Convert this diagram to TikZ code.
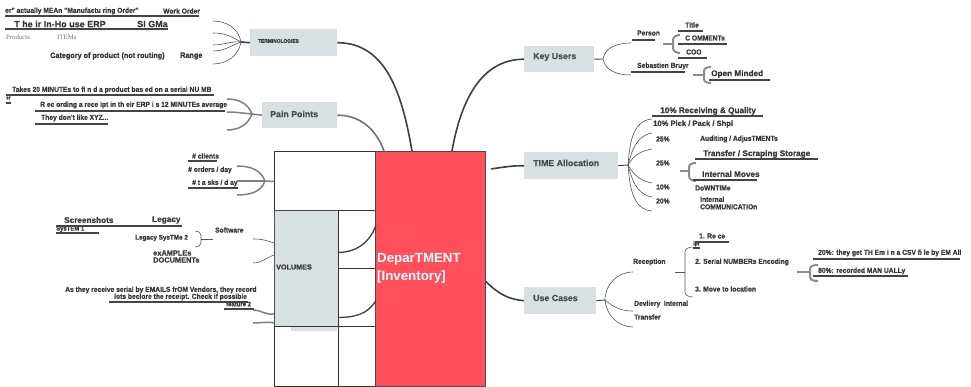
\documentclass[tikz,border=0pt]{standalone}
\usepackage{fontspec}
\setmainfont{Liberation Sans}
\newfontfamily\cnd[FakeStretch=0.93,FakeBold=0.8]{Liberation Sans Bold}
\newfontfamily\hvy[FakeBold=0.6]{Liberation Sans Bold}
\newfontfamily\srf{Liberation Serif}
\usetikzlibrary{calc}
\definecolor{redc}{HTML}{FF4F5A}
\definecolor{boxg}{HTML}{D9E0E2}
\definecolor{linec}{HTML}{39414C}
\definecolor{txtc}{HTML}{383838}
\definecolor{barc}{HTML}{444444}
\begin{document}
\begin{tikzpicture}[x=1pt,y=-1pt,
 txt/.style={font=\cnd\fontsize{7.2}{7.4}\selectfont, text=txtc, inner sep=0pt, anchor=west},
 txtw/.style={font=\hvy\fontsize{8.2}{8.4}\selectfont, text=txtc, inner sep=0pt, anchor=west},
 srft/.style={font=\srf\fontsize{6.8}{7}\selectfont, text=black!55, inner sep=0pt, anchor=west},
 lbl/.style={font=\hvy\fontsize{8.8}{9}\selectfont, text=txtc!90, inner sep=0pt, anchor=west},
 gbox/.style={fill=boxg, draw=none, inner sep=0pt, anchor=north west},
 cell/.style={draw=black!80, line width=0.9pt, inner sep=0pt, anchor=north west},
 bar/.style={draw=barc, line width=2.6pt},
 conn/.style={draw=linec, line width=1.6pt},
 gconn/.style={draw=black!55, line width=1.6pt},
 fan/.style={draw=linec!90, line width=0.6pt},
 gfan/.style={draw=black!50, line width=1.5pt},
 brk/.style={draw=black!45, line width=2pt},
]
\fill[white] (0,0) rectangle (971,387);
\useasboundingbox (0,0) rectangle (971,387);

% ---------- central block ----------
\node[cell, fill=white, minimum width=101pt, minimum height=59pt] (topw) at (274,151) {};
\node[cell, fill=boxg, draw=black!70, minimum width=64pt, minimum height=116pt] (vol) at (274,210) {};
\node[cell, fill=white, minimum width=37pt, minimum height=58pt] (sA) at (338,210) {};
\node[cell, fill=white, minimum width=37pt, minimum height=58pt] (sB) at (338,268) {};
\node[cell, fill=white, minimum width=64pt, minimum height=60pt] (bA) at (274,326) {};
\node[cell, fill=white, minimum width=37pt, minimum height=60pt] (bB) at (338,326) {};
\fill[boxg] (291,327) rectangle (337,331);
\node[cell, fill=redc, draw=black!70, minimum width=110pt, minimum height=235pt] (dept) at (375,151) {};
\node[font=\bfseries\fontsize{13.3}{18}\selectfont, text=white, align=left, inner sep=0pt, anchor=west] (deptlbl) at (377,268) {DeparTMENT\\{[Inventory]}};
\node[font=\hvy\fontsize{7.2}{8}\selectfont, text=txtc, inner sep=0pt, anchor=west] (vollbl) at (276,267) {VOLUMES};

\draw[conn, line width=1.3pt] ([yshift=-13pt]sA.west) to[out=0,in=-110] ([yshift=14pt]sA.east);
\draw[conn, line width=1.3pt] ([yshift=-20pt]sB.west) to[out=0,in=-120] ([yshift=-3pt]sB.east);

% ---------- branch boxes ----------
\node[gbox, minimum width=87pt, minimum height=27pt] (terms) at (250,29) {};
\node[font=\cnd\fontsize{5.2}{6}\selectfont, text=txtc, inner sep=0pt, anchor=west] (termslbl) at (258,41) {TERMINOLOGIES};
\node[gbox, minimum width=75pt, minimum height=26pt] (pain) at (262,102) {};
\node[lbl] (painlbl) at (270,114) {Pain Points};
\node[gbox, minimum width=70pt, minimum height=26pt] (keyu) at (524,46) {};
\node[lbl] (keyulbl) at (533,57) {Key Users};
\node[gbox, minimum width=94pt, minimum height=27pt] (time) at (524,152) {};
\node[lbl] (timelbl) at (533,163) {TIME Allocation};
\node[gbox, minimum width=72pt, minimum height=27pt] (usec) at (524,287) {};
\node[lbl] (useclbl) at (533,298) {Use Cases};

% main connectors
\draw[conn] (terms.east) to[out=0,in=100] ([xshift=37pt]dept.north west);
\draw[gconn] (pain.east) to[out=0,in=110] ([xshift=9pt]dept.north west);
\draw[conn] ([xshift=77pt]dept.north west) to[out=80,in=180] (keyu.west);
\draw[conn] ([xshift=5pt,yshift=100pt]dept.east) to[out=8,in=180] (time.west);
\draw[conn] ([yshift=-12.5pt]dept.east) to[out=-45,in=175] (usec.west);

% ---------- TERMINOLOGIES ----------
\node[txt] (t1) at (5,11) {er" actually MEAn "Manufactu ring Order"};
\node[txt] (t1b) at (163,11) {Work Order};
\draw[bar] (5,16) -- (199,16);
\node[txtw, font=\hvy\fontsize{9}{9}\selectfont] (t2) at (14,24) {T he ir In-Ho use ERP};
\node[txtw, font=\hvy\fontsize{9}{9}\selectfont] (t2b) at (137,24) {SI GMa};
\draw[bar] (5,29) -- (168,29);
\node[srft] (t3) at (6,37) {Products};
\node[srft] (t3b) at (57,37) {ITEMs};
\node[txt, font=\cnd\fontsize{7.8}{8}\selectfont] (t4) at (50,56) {Category of product (not routing)};
\node[txt, font=\cnd\fontsize{7.8}{8}\selectfont] (t4b) at (180,56) {Range};
\coordinate (J1) at (241,42);
\coordinate (e11) at (213,21);
\coordinate (e12) at (213,33);
\coordinate (e13) at (213,45);
\coordinate (e14) at (213,51);
\coordinate (e15) at (213,64);
\draw[conn] (terms.west) -- (J1);
\draw[fan] (J1) to[out=100,in=0] (e11);
\draw[fan] (J1) to[out=150,in=0] (e12);
\draw[fan] (J1) to[out=175,in=0] (e13);
\draw[fan] (J1) to[out=200,in=0] (e14);
\draw[fan] (J1) to[out=260,in=0] (e15);

% ---------- Pain Points ----------
\node[txt] (p1) at (12,90) {Takes 20 MINUTEs to fi n d a product bas ed on a serial NU MB};
\node[txt, font=\cnd\fontsize{5}{5}\selectfont] (p1b) at (6,98) {er};
\draw[bar] (6,95) -- (214,95);
\draw[bar, line width=2pt] (6,103) -- (11,103);
\node[txt] (p2) at (40,105) {R ec ording a rece ipt in th eir ERP i s 12 MINUTEs average};
\draw[bar] (35,111) -- (225,111);
\node[txt] (p3) at (41,118) {They don't like XYZ...};
\draw[bar] (35,124) -- (108,124);
\coordinate (J2) at (252,114);
\coordinate (e21) at (227,99);
\coordinate (e22) at (227,112);
\coordinate (e23) at (227,130);
\draw[gfan] (pain.west) -- (J2);
\draw[gfan] (J2) to[out=110,in=0] (e21);
\draw[gfan] (J2) to[out=175,in=0] (e22);
\draw[gfan] (J2) to[out=250,in=0] (e23);

% ---------- Volumes: counts ----------
\node[txt] (v1) at (192,156) {\# clients};
\draw[bar] (188,161) -- (217,161);
\node[txt] (v2) at (188,170) {\# orders / day};
\node[txt] (v3) at (192,183) {\# t a sks / d ay};
\draw[bar] (188,188) -- (238,188);
\coordinate (J3) at (265,181);
\coordinate (e31) at (237,166);
\coordinate (e32) at (237,181);
\coordinate (e33) at (237,195);
\draw[gfan] ([yshift=-0.5pt]topw.west) -- (J3);
\draw[gfan] (J3) to[out=110,in=0] (e31);
\draw[gfan] (J3) -- (e32);
\draw[gfan] (J3) to[out=250,in=0] (e33);

% ---------- Volumes: software ----------
\node[txt, font=\cnd\fontsize{6.4}{6.4}\selectfont] (s0) at (56,229) {SysTEM 1};
\node[txtw] (s1) at (64,220) {Screenshots};
\node[txtw] (s1b) at (152,220) {Legacy};
\draw[bar] (56,226) -- (182,226);
\draw[bar] (56,233) -- (99,233);
\node[txt, font=\cnd\fontsize{6.8}{7}\selectfont] (s2) at (135,238) {Legacy SysTMe 2};
\node[txt] (s3) at (215,230) {Software};
\node[txtw, font=\hvy\fontsize{7.4}{7}\selectfont, align=left] (s4) at (153,256.5) {exAMPLEs\\DOCUMENTs};
\coordinate (B1) at (201,239);
\coordinate (B1e) at (213,239);
\draw[fan] (195,231) to[out=0,in=90] (201,235) -- (201,243) to[out=-90,in=0] (195,247);
\draw[fan] (B1) -- (B1e);
\coordinate (e41) at (253,239);
\coordinate (e42) at (253,263);
\draw[fan] (e41) to[out=0,in=160] ([yshift=-33pt]vol.north west);
\draw[fan] (e42) to[out=0,in=200] ([yshift=-45pt]vol.north west);

% ---------- Volumes: emails ----------
\node[txt] (m1) at (65,290) {As they receive serial by EMAILS frOM Vendors, they record};
\node[txt] (m2) at (114,297) {lots beclore the receipt. Check if possible};
\node[txt, font=\cnd\fontsize{6.4}{6}\selectfont] (m3) at (226,304) {feature 2};
\draw[bar] (109,302) -- (248,302);
\draw[bar] (224,309) -- (254,309);
\coordinate (e51) at (253,310);
\coordinate (e52) at (253,323);
\draw[gfan] (e51) to[out=0,in=190] ([yshift=13pt]vol.south west);
\draw[gfan] (e52) to[out=0,in=170] ([yshift=4pt]vol.south west);

% ---------- Key Users ----------
\coordinate (J4) at (603,59);
\coordinate (e61) at (631,43);
\coordinate (e62) at (631,75);
\draw[conn, line width=0.9pt] (keyu.east) -- (J4);
\draw[fan] (J4) to[out=80,in=180] (e61);
\draw[fan] (J4) to[out=-80,in=180] (e62);
\node[txt] (k1) at (637,33) {Person};
\draw[bar] (632,40) -- (655,40);
\node[txt] (k2) at (685,25) {Title};
\draw[bar] (678,31) -- (703,31);
\node[txt] (k3) at (685,38) {C OMMENTs};
\draw[bar] (678,44) -- (727,44);
\node[txt] (k4) at (686,52) {COO};
\draw[bar] (678,58) -- (707,58);
\node[txt] (k5) at (637,66) {Sebastien Bruyr};
\draw[bar] (631,72) -- (685,72);
\node[txtw] (k6) at (711,74) {Open Minded};
\draw[bar] (709,80) -- (770,80);
\draw[brk] (680,35) to[out=180,in=90] (673,40) -- (673,48) to[out=-90,in=180] (680,53);
\draw[brk] (663,44) -- (673,44);
\draw[brk] (711,67) to[out=180,in=90] (704,71) -- (704,79) to[out=-90,in=180] (711,83);
\draw[brk] (693,75) -- (704,75);

% ---------- TIME Allocation ----------
\coordinate (J5) at (628,165);
\coordinate (e71) at (652,119);
\coordinate (e72) at (652,133);
\coordinate (e73) at (652,149);
\coordinate (e74) at (652,183);
\coordinate (e75) at (652,197);
\coordinate (e76) at (652,211);
\draw[conn, line width=0.9pt] (time.east) -- (J5);
\draw[fan] (J5) to[out=85,in=185] (e71);
\draw[fan] (J5) to[out=75,in=190] (e72);
\draw[fan] (J5) to[out=60,in=190] (e73);
\draw[fan] (J5) to[out=-60,in=170] (e74);
\draw[fan] (J5) to[out=-75,in=170] (e75);
\draw[fan] (J5) to[out=-85,in=175] (e76);
\node[txtw] (a1) at (660,111) {10\% Receiving \& Quality};
\draw[bar] (652,116) -- (763,116);
\node[txtw, font=\hvy\fontsize{7.6}{7.6}\selectfont] (a2) at (653,124) {10\% Pick / Pack / Shpi};
\node[txt] (a3) at (656,139) {25\%};
\node[txt] (a3b) at (700,139) {Auditing / AdjusTMENTs};
\node[txtw] (a4) at (703,154) {Transfer / Scraping Storage};
\draw[bar] (695,159) -- (818,159);
\node[txt] (a5) at (656,163) {25\%};
\draw[brk] (696,163) to[out=180,in=90] (689,167) -- (689,176) to[out=-90,in=180] (696,181);
\draw[brk] (680,171) -- (689,171);
\node[txtw] (a6) at (702,174) {Internal Moves};
\draw[bar] (693,180) -- (757,180);
\node[txt] (a7) at (656,187) {10\%};
\node[txt] (a7b) at (695,188) {DoWNTIMe};
\node[txt] (a8) at (656,201) {20\%};
\node[txt, align=left] (a8b) at (700,203) {Internal\\COMMUNICATIOn};

% ---------- Use Cases ----------
\coordinate (J6) at (605,300);
\coordinate (e81) at (633,272);
\coordinate (e82) at (633,311);
\coordinate (e83) at (633,327);
\draw[conn, line width=0.9pt] (usec.east) -- (J6);
\draw[fan] (J6) to[out=90,in=180] (e81);
\draw[fan] (J6) to[out=-40,in=180] (e82);
\draw[fan] (J6) to[out=-85,in=180] (e83);
\node[txt] (u1) at (633,262) {Reception};
\draw[fan] (675,272) -- (685,272);
\draw[fan] (693,247) to[out=180,in=90] (685,252) -- (685,292) to[out=-90,in=180] (693,297);
\node[txt] (u2) at (699,236) {1. Re ce};
\node[txt, font=\cnd\fontsize{5.5}{6}\selectfont] (u2b) at (693,244) {ipt};
\draw[bar] (695,242) -- (729,242);
\draw[bar, line width=2pt] (693,248) -- (700,248);
\node[txt] (u3) at (695,262) {2. Serial NUMBERs Encoding};
\node[txt] (u4) at (695,289) {3. Move to location};
\draw[brk] (818,265) to[out=180,in=90] (810,269) -- (810,277) to[out=-90,in=180] (818,281);
\draw[brk] (797,272) -- (810,272);
\node[txt] (u5) at (818,253) {20\%: they get TH Em i n a CSV fi le by EM All};
\draw[bar] (813,259) -- (960,259);
\node[txt] (u6) at (818,271) {80\%: recorded MAN UALLy};
\draw[bar] (813,276) -- (908,276);
\node[txt] (u7) at (634,304) {Devliery~~Internal};
\node[txt] (u8) at (634,317) {Transfer};
\end{tikzpicture}
\end{document}
